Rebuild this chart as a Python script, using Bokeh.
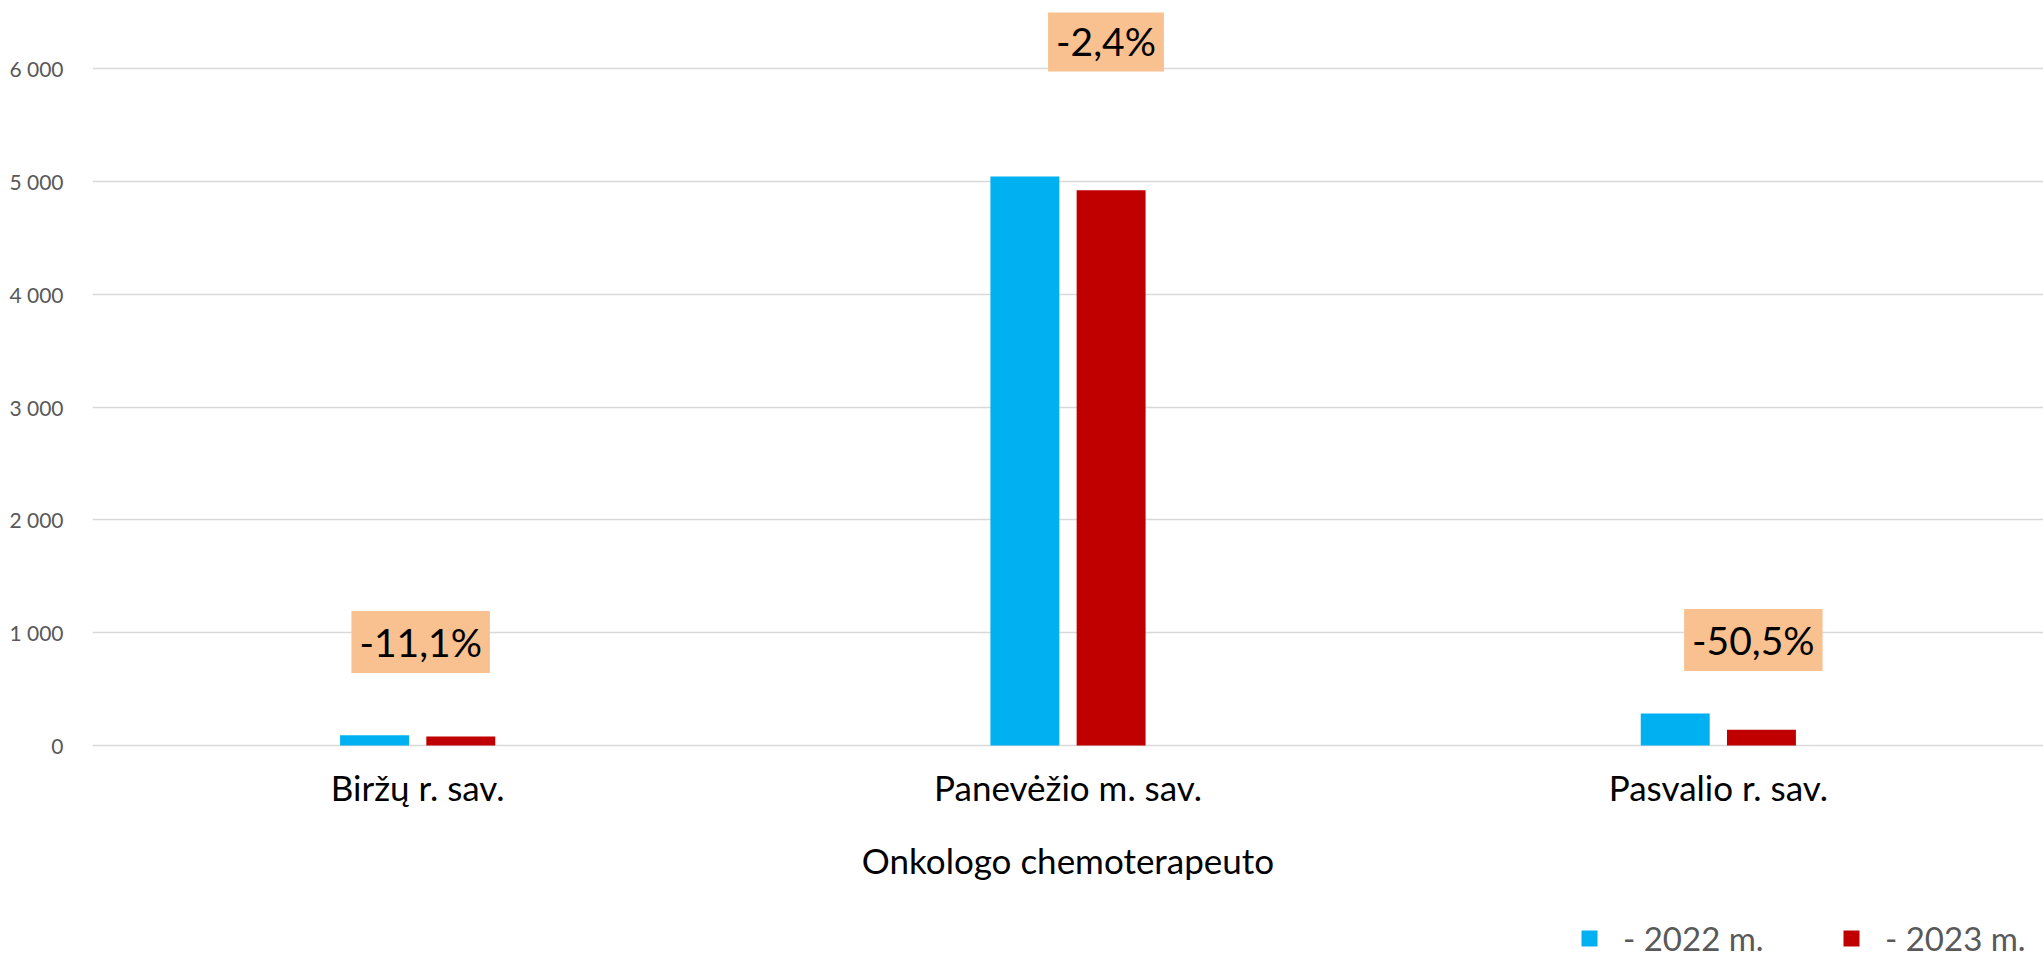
from bokeh.plotting import figure
from bokeh.models import (ColumnDataSource, FixedTicker, Range1d, FactorRange, Label,
                          Legend, LegendItem)
from bokeh.transform import dodge
from bokeh.embed import file_html
from bokeh.resources import INLINE

# ---- data ----
categories = ["Biržų r. sav.", "Panevėžio m. sav.", "Pasvalio r. sav."]
values_2022 = [90, 5045, 283]
values_2023 = [80, 4924, 140]
series_names = ["- 2022 m.", "- 2023 m."]
axis_title = "Onkologo chemoterapeuto"
y_ticks = [0, 1000, 2000, 3000, 4000, 5000, 6000]
y_tick_labels = ["0", "1 000", "2 000", "3 000", "4 000", "5 000", "6 000"]

# ---- style / layout ----
FONT = "Lato"
BLUE = "#00B0F0"
RED = "#C00000"
GRAY_TXT = "#595959"
GRID = "#D9D9D9"
BOX = "#F8C18F"
label_y = [918, 6251, 936]          # vertical anchor of % labels (data units)
label_dx = [3, 38, 35]              # horizontal pixel offsets of % labels
Y_MIN, Y_MAX = -1871, 6500          # frame extends below 0 to hold axis labels and legend

src = ColumnDataSource(dict(cat=categories, y2022=values_2022, y2023=values_2023))

p = figure(x_range=FactorRange(*categories), y_range=Range1d(Y_MIN, Y_MAX),
           frame_width=1951, frame_height=944,
           min_border_left=92, min_border_right=0, min_border_top=12, min_border_bottom=0,
           output_backend="svg", toolbar_location=None, background_fill_color="white",
           border_fill_color="white")
p.outline_line_color = None

BAR_W = 0.106
OFF = 0.0663
r1 = p.vbar(x=dodge("cat", -OFF, range=p.x_range), top="y2022", bottom=0, width=BAR_W,
            source=src, fill_color=BLUE, line_color=None)
r2 = p.vbar(x=dodge("cat", OFF, range=p.x_range), top="y2023", bottom=0, width=BAR_W,
            source=src, fill_color=RED, line_color=None)

# axes
p.yaxis.ticker = FixedTicker(ticks=y_ticks)
p.yaxis.major_label_overrides = {t: l for t, l in zip(y_ticks, y_tick_labels)}
p.yaxis.axis_line_color = None
p.yaxis.major_tick_line_color = None
p.yaxis.minor_tick_line_color = None
p.yaxis.major_label_text_font = FONT
p.yaxis.major_label_text_font_size = "21px"
p.yaxis.major_label_text_color = GRAY_TXT
p.yaxis.major_label_standoff = 23

p.xaxis.fixed_location = 0
p.xaxis.axis_line_color = None
p.xaxis.major_tick_line_color = None
p.xaxis.minor_tick_line_color = None
p.xaxis.major_tick_out = 0
p.xaxis.major_tick_in = 0
p.xaxis.major_label_text_font = FONT
p.xaxis.major_label_text_font_size = "35px"
p.xaxis.major_label_text_color = "black"
p.xaxis.major_label_standoff = 20
p.xaxis.axis_label = axis_title
p.xaxis.axis_label_text_font = FONT
p.xaxis.axis_label_text_font_size = "35px"
p.xaxis.axis_label_text_font_style = "normal"
p.xaxis.axis_label_text_color = "black"
p.xaxis.axis_label_standoff = 28

p.xgrid.grid_line_color = None
p.ygrid.grid_line_color = GRID
p.ygrid.grid_line_width = 1.5

# percentage change labels (x in the categorical range's synthetic units: centre = i + 0.5)
for i, c in enumerate(categories):
    pct = (values_2023[i] - values_2022[i]) / values_2022[i] * 100
    txt = f"{pct:.1f}%".replace(".", ",")
    lab = Label(x=i + 0.5, y=label_y[i], x_offset=label_dx[i], text=txt,
                text_font=FONT, text_font_size="39px", text_color="black",
                text_align="center", text_baseline="middle",
                background_fill_color=BOX, padding=8)
    p.add_layout(lab)

legend = Legend(items=[LegendItem(label=series_names[0], renderers=[r1]),
                       LegendItem(label=series_names[1], renderers=[r2])],
                orientation="horizontal", location=(1487, -2),
                label_text_font=FONT, label_text_font_size="33px",
                label_text_color=GRAY_TXT, glyph_width=20, glyph_height=20,
                label_standoff=24, label_width=155, spacing=63, padding=0, margin=0,
                border_line_color=None, background_fill_alpha=0)
p.add_layout(legend, "center")

open("out.html", "w").write(file_html(p, INLINE))
